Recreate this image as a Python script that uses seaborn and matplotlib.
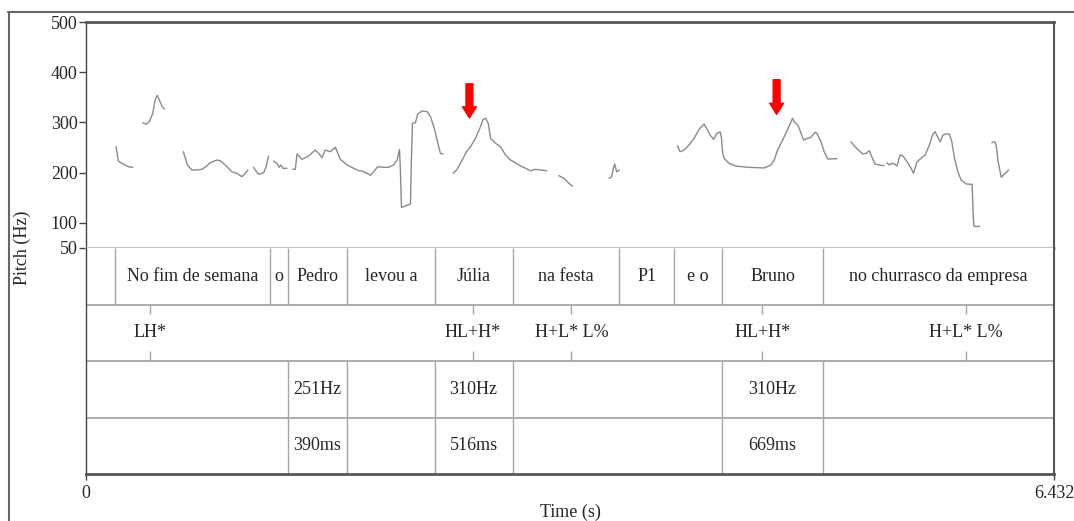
import matplotlib
matplotlib.use("Agg")
import matplotlib.pyplot as plt
import pandas as pd
import seaborn as sns
from matplotlib.lines import Line2D

# --- pitch contour (seconds, Hz), one list per voiced stretch ---
seg_t = [
    [0.200, 0.215, 0.248, 0.281, 0.311],
    [0.377, 0.399, 0.421, 0.444, 0.459, 0.474, 0.492, 0.508, 0.521],
    [0.647, 0.674, 0.703, 0.737, 0.770, 0.803, 0.825, 0.870, 0.892, 0.925,
     0.969, 1.003, 1.036, 1.058, 1.076],
    [1.113, 1.146, 1.180, 1.196, 1.213],
    [1.246, 1.269, 1.284, 1.295, 1.309, 1.335],
    [1.373, 1.391, 1.402, 1.435, 1.479, 1.524, 1.546, 1.568, 1.590, 1.623,
     1.657, 1.690, 1.735, 1.778, 1.812, 1.834, 1.868, 1.890, 1.912, 1.938,
     1.978, 2.011, 2.045, 2.067, 2.083, 2.089, 2.096, 2.144, 2.156, 2.162,
     2.169, 2.189, 2.204, 2.234, 2.267, 2.289, 2.311, 2.333, 2.355, 2.373],
    [2.440, 2.466, 2.500, 2.528, 2.555, 2.588, 2.617, 2.639, 2.655, 2.673,
     2.688, 2.721, 2.754, 2.788, 2.821, 2.854, 2.888, 2.921, 2.954, 2.987,
     3.021, 3.061],
    [3.142, 3.176, 3.209, 3.232],
    [3.475, 3.493, 3.504, 3.513, 3.526, 3.544],
    [3.930, 3.947, 3.974, 4.007, 4.041, 4.074, 4.107, 4.130, 4.147, 4.170,
     4.192, 4.214, 4.223, 4.229, 4.240, 4.273, 4.318, 4.396, 4.462, 4.506,
     4.551, 4.573, 4.595, 4.629, 4.662, 4.695, 4.706, 4.729, 4.739, 4.768,
     4.795, 4.817, 4.844, 4.857, 4.884, 4.905, 4.928, 4.990],
    [5.083, 5.105, 5.132, 5.161, 5.183, 5.205, 5.221, 5.243, 5.271, 5.301],
    [5.323, 5.338, 5.354, 5.371, 5.389, 5.409, 5.427, 5.456, 5.482, 5.498,
     5.522, 5.549, 5.576, 5.604, 5.627, 5.642, 5.660, 5.677, 5.693, 5.715,
     5.737, 5.753, 5.771, 5.793, 5.815, 5.848, 5.888, 5.893, 5.899, 5.915,
     5.937],
    [6.019, 6.037, 6.048, 6.059, 6.081, 6.103, 6.130],
]
seg_hz = [
    [251.7, 223.2, 217.2, 211.9, 210.7],
    [299.5, 296.3, 301.5, 318.2, 344.7, 354.0, 341.3, 330.1, 326.7],
    [241.7, 215.3, 205.3, 205.3, 206.7, 213.3, 219.8, 225.2, 223.8, 215.3,
     201.9, 198.7, 192.0, 198.7, 205.3],
    [210.7, 196.7, 199.9, 210.7, 233.2],
    [223.2, 218.6, 210.7, 215.3, 208.7, 208.7],
    [206.7, 206.7, 237.2, 226.6, 233.2, 245.1, 238.5, 229.8, 245.1, 241.7,
     250.5, 226.6, 215.3, 208.7, 203.9, 203.3, 198.7, 194.7, 201.9, 211.9,
     210.7, 210.7, 215.3, 225.2, 246.5, 205.3, 131.0, 136.2, 137.6, 225.2,
     298.3, 299.5, 316.8, 322.8, 321.4, 311.4, 291.5, 265.0, 238.5, 237.2],
    [198.7, 206.7, 225.2, 241.7, 251.7, 268.4, 288.3, 306.2, 308.2, 298.3,
     268.4, 258.5, 251.7, 235.2, 225.2, 219.8, 213.3, 208.7, 203.9, 206.7,
     205.3, 203.9],
    [194.0, 188.8, 178.8, 173.4],
    [188.8, 192.0, 208.7, 217.2, 201.9, 205.3],
    [253.7, 241.7, 245.1, 255.1, 268.4, 286.3, 296.9, 285.0, 275.0, 266.4,
     278.4, 281.0, 268.4, 241.7, 228.6, 218.6, 213.3, 210.7, 209.9, 209.3,
     215.3, 225.2, 245.1, 265.0, 286.3, 308.2, 301.5, 294.9, 288.3, 265.0,
     268.4, 270.4, 280.4, 278.4, 261.6, 241.7, 227.2, 227.8],
    [261.6, 253.1, 245.1, 237.2, 238.5, 243.7, 231.8, 217.2, 215.3, 213.9],
    [219.8, 215.3, 218.6, 217.2, 213.3, 235.2, 233.2, 221.8, 208.7, 198.7,
     221.8, 228.6, 235.2, 255.1, 276.4, 281.6, 270.4, 261.6, 275.0, 277.0,
     277.0, 261.6, 228.6, 201.9, 185.4, 177.4, 176.8, 132.2, 93.8, 92.4,
     93.8],
    [259.7, 261.6, 255.1, 225.2, 190.8, 197.3, 205.3],
]

# --- red arrows marking the peaks ---
arrow_t = [2.548, 4.589]
arrow_tip_hz = [309, 316]
arrow_top_hz = [377, 385]

# --- TextGrid tiers ---
total_dur = 6.432
word_bounds = [0, 0.193, 1.223, 1.342, 1.734, 2.316, 2.834, 3.542, 3.910, 4.226, 4.897, 6.432]
words = ["", "No fim de semana", "o", "Pedro", "levou a", "Júlia", "na festa",
         "P1", "e o", "Bruno", "no churrasco da empresa"]
tone_t = [0.424, 2.570, 3.225, 4.494, 5.847]
tones = ["LH*", "HL+H*", "H+L* L%", "HL+H*", "H+L* L%"]
peak_bounds = [0, 1.342, 1.734, 2.316, 2.834, 4.226, 4.897, 6.432]
peak_hz_lbl = ["", "251Hz", "", "310Hz", "", "310Hz", ""]
peak_ms_lbl = ["", "390ms", "", "516ms", "", "669ms", ""]
y_ticks = [50, 100, 200, 300, 400, 500]

sns.set_style("white")
plt.rcParams["font.family"] = ["Liberation Serif", "DejaVu Serif"]
plt.rcParams["font.size"] = 13

W, H = 1074, 521
fig = plt.figure(figsize=(W / 100, H / 100), dpi=100)
left, right = 86 / W, 1054 / W
ax_p = fig.add_axes([left, 1 - 248 / H, right - left, 226 / H])
ax_t = fig.add_axes([left, 1 - 474 / H, right - left, 226 / H])

rows = []
for k, (ts, hs) in enumerate(zip(seg_t, seg_hz)):
    for t, h in zip(ts, hs):
        rows.append({"t": t, "hz": h, "seg": k})
df = pd.DataFrame(rows)

sns.lineplot(data=df, x="t", y="hz", units="seg", estimator=None, sort=False,
             color="#8a8a8a", lw=1.0, ax=ax_p, legend=False)

for t, tip, top in zip(arrow_t, arrow_tip_hz, arrow_top_hz):
    ax_p.annotate("", xy=(t, tip), xytext=(t, top),
                  arrowprops=dict(facecolor="#ff0000", edgecolor="#ff0000",
                                  width=5, headwidth=10, headlength=8, shrink=0))

ax_p.set_xlim(0, total_dur)
ax_p.set_ylim(50, 500)
ax_p.set_yticks(y_ticks)
ax_p.set_xticks([])
ax_p.set_xlabel("")
ax_p.set_ylabel("")
ax_p.tick_params(axis="y", direction="out", length=5, width=1, color="#444",
                 pad=1, labelsize=13, left=True)
for s, (lw, c) in {"top": (2, "#555"), "left": (1, "#444"),
                   "right": (1.5, "#555"), "bottom": (2, "#bbb")}.items():
    ax_p.spines[s].set_visible(True)
    ax_p.spines[s].set_linewidth(lw)
    ax_p.spines[s].set_color(c)

# tiers
ax_t.set_xlim(0, total_dur)
ax_t.set_ylim(4, 0)
ax_t.set_yticks([])
ax_t.set_xticks([0, total_dur])
ax_t.set_xticklabels(["0", "6.432"])
ax_t.tick_params(axis="x", direction="out", length=4, width=1, color="#444",
                 pad=4, labelsize=13, bottom=True)
ax_t.spines["top"].set_visible(False)
for s, (lw, c) in {"left": (1, "#444"), "right": (1.5, "#555"),
                   "bottom": (2, "#555")}.items():
    ax_t.spines[s].set_visible(True)
    ax_t.spines[s].set_linewidth(lw)
    ax_t.spines[s].set_color(c)
ax_t.set_xlabel("Time (s)", fontsize=13, labelpad=1)

line_c = "#a6a6a6"
for r in [1, 2, 3]:
    ax_t.axhline(r, color=line_c, lw=1.3)

def interval_tier(row, bounds, labels):
    ax_t.vlines(bounds[1:-1], row, row + 1, color=line_c, lw=1.0)
    for a, b, lab in zip(bounds[:-1], bounds[1:], labels):
        if lab:
            ax_t.text((a + b) / 2, row + 0.5, lab, ha="center", va="center", fontsize=13)

interval_tier(0, word_bounds, words)
interval_tier(2, peak_bounds, peak_hz_lbl)
interval_tier(3, peak_bounds, peak_ms_lbl)

ax_t.vlines(tone_t, 1, 1.17, color=line_c, lw=1.0)
ax_t.vlines(tone_t, 1.83, 2, color=line_c, lw=1.0)
for t, lab in zip(tone_t, tones):
    ax_t.text(t, 1.5, lab, ha="center", va="center", fontsize=13)

fig.text(22 / W, 1 - 248 / H, "Pitch (Hz)", rotation=90, ha="center",
         va="center", fontsize=13)

# outer frame of the page
fig.add_artist(Line2D([8 / W, 1], [1 - 12 / H, 1 - 12 / H], color="#666", lw=1.5))
fig.add_artist(Line2D([9 / W, 9 / W], [0, 1 - 12 / H], color="#666", lw=1.5))

fig.savefig("out.png", dpi=100)
